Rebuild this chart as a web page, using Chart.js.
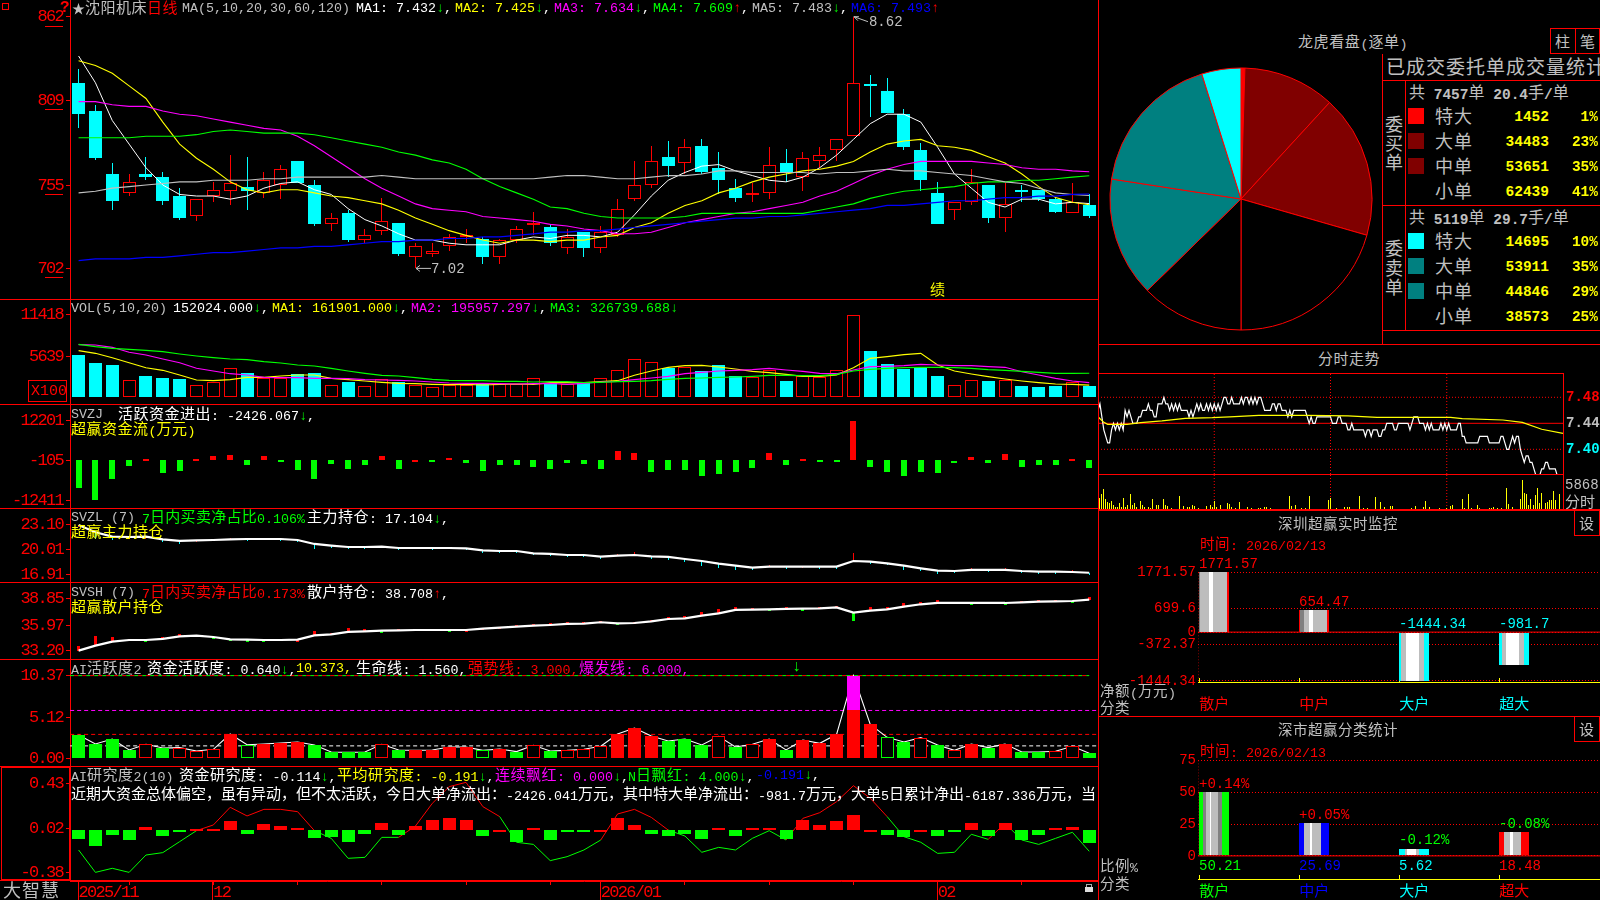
<!DOCTYPE html>
<html lang="zh">
<head>
<meta charset="utf-8">
<title>沈阳机床 日线</title>
<script src="https://cdn.jsdelivr.net/npm/chart.js@4"></script>
<style>
html,body{margin:0;padding:0;background:#000;overflow:hidden}
#stage{position:relative;width:1600px;height:900px;background:#000;overflow:hidden}
canvas{position:absolute;display:block}
.t{position:absolute;white-space:pre;line-height:1;transform:translateY(-50%);z-index:5}
.r{position:absolute;background:#f00;z-index:4}
.b{position:absolute;border:1px solid #f00;box-sizing:border-box;z-index:4}
</style>
</head>
<body>
<div id="stage"></div>
<script>
// ---- daily candles (yuan) ----
const candleOpen=[8.20,8.02,7.62,7.50,7.62,7.60,7.48,7.35,7.48,7.51,7.54,7.50,7.55,7.70,7.55,7.30,7.37,7.20,7.26,7.31,7.09,7.11,7.16,7.22,7.21,7.09,7.20,7.30,7.28,7.15,7.25,7.15,7.23,7.46,7.55,7.73,7.69,7.80,7.66,7.53,7.49,7.50,7.69,7.60,7.70,7.77,7.86,8.19,8.15,8.00,7.77,7.50,7.39,7.44,7.55,7.34,7.52,7.52,7.46,7.37,7.42];
const candleClose=[8.00,7.72,7.45,7.57,7.60,7.45,7.34,7.46,7.52,7.56,7.51,7.58,7.65,7.56,7.30,7.34,7.20,7.23,7.32,7.11,7.16,7.13,7.22,7.23,7.09,7.20,7.27,7.31,7.18,7.22,7.15,7.25,7.40,7.55,7.70,7.67,7.79,7.63,7.58,7.47,7.50,7.68,7.63,7.72,7.74,7.84,8.20,8.18,8.01,7.79,7.58,7.30,7.44,7.57,7.34,7.43,7.51,7.46,7.38,7.44,7.35];
const candleHigh=[8.29,8.06,7.69,7.62,7.73,7.63,7.53,7.46,7.57,7.74,7.73,7.63,7.68,7.70,7.58,7.37,7.39,7.27,7.47,7.31,7.18,7.18,7.24,7.27,7.22,7.21,7.29,7.38,7.30,7.27,7.25,7.29,7.46,7.70,7.80,7.83,7.84,7.84,7.76,7.59,7.56,7.79,7.78,7.76,7.79,7.84,8.62,8.25,8.23,8.03,7.82,7.57,7.44,7.65,7.55,7.56,7.55,7.52,7.47,7.56,7.49];
const candleLow=[7.91,7.71,7.39,7.48,7.58,7.42,7.33,7.32,7.44,7.42,7.39,7.47,7.46,7.56,7.29,7.26,7.19,7.18,7.23,7.10,7.02,7.09,7.13,7.18,7.05,7.05,7.18,7.23,7.16,7.11,7.09,7.12,7.22,7.45,7.53,7.60,7.62,7.62,7.49,7.44,7.44,7.46,7.57,7.51,7.66,7.70,7.86,7.98,8.01,7.77,7.51,7.30,7.33,7.42,7.31,7.25,7.44,7.45,7.37,7.37,7.34];
const priceTicks=[8.62,8.09,7.55,7.02];

// ---- price moving averages ----
const ma5=[8.37,8.20,7.96,7.81,7.66,7.55,7.49,7.48,7.48,7.46,7.48,7.53,7.56,7.57,7.52,7.49,7.40,7.33,7.29,7.24,7.20,7.20,7.18,7.17,7.17,7.17,7.20,7.22,7.21,7.23,7.23,7.22,7.25,7.36,7.48,7.58,7.63,7.67,7.68,7.64,7.61,7.58,7.57,7.60,7.66,7.74,7.84,7.94,8.00,8.00,7.95,7.79,7.62,7.53,7.44,7.41,7.46,7.46,7.43,7.44,7.432];
const ma10=[8.34,8.31,8.26,8.18,8.10,7.95,7.81,7.72,7.65,7.57,7.52,7.50,7.52,7.52,7.50,7.48,7.47,7.45,7.43,7.39,7.34,7.30,7.26,7.23,7.20,7.18,7.20,7.20,7.19,7.20,7.20,7.22,7.23,7.28,7.31,7.37,7.42,7.45,7.50,7.53,7.57,7.60,7.62,7.64,7.65,7.67,7.70,7.76,7.81,7.83,7.84,7.80,7.79,7.77,7.73,7.69,7.62,7.54,7.47,7.44,7.425];
const ma20=[8.08,8.08,8.06,8.05,8.05,8.02,8.00,7.99,7.97,7.95,7.93,7.91,7.90,7.86,7.80,7.73,7.66,7.59,7.53,7.48,7.43,7.40,7.39,7.38,7.35,7.34,7.33,7.32,7.30,7.29,7.27,7.26,7.24,7.24,7.25,7.28,7.31,7.33,7.35,7.37,7.38,7.40,7.42,7.44,7.48,7.51,7.56,7.61,7.65,7.68,7.70,7.70,7.70,7.70,7.69,7.68,7.66,7.65,7.65,7.64,7.634];
const ma30=[7.85,7.85,7.85,7.85,7.86,7.86,7.86,7.87,7.89,7.90,7.89,7.88,7.88,7.88,7.87,7.85,7.83,7.81,7.79,7.76,7.74,7.71,7.69,7.65,7.59,7.54,7.50,7.46,7.41,7.40,7.37,7.35,7.34,7.34,7.34,7.34,7.35,7.37,7.37,7.37,7.37,7.37,7.37,7.37,7.39,7.41,7.43,7.465,7.49,7.51,7.52,7.53,7.54,7.56,7.57,7.57,7.58,7.58,7.59,7.60,7.609];
const ma60=[7.50,7.51,7.53,7.54,7.55,7.56,7.57,7.57,7.58,7.58,7.58,7.59,7.59,7.60,7.60,7.60,7.60,7.60,7.61,7.60,7.59,7.59,7.59,7.59,7.59,7.59,7.59,7.59,7.60,7.61,7.61,7.60,7.59,7.59,7.60,7.61,7.61,7.62,7.64,7.64,7.63,7.63,7.63,7.63,7.62,7.63,7.63,7.64,7.65,7.64,7.64,7.63,7.62,7.61,7.59,7.57,7.56,7.53,7.50,7.49,7.483];
const ma120=[7.07,7.08,7.08,7.08,7.09,7.09,7.10,7.11,7.12,7.12,7.13,7.14,7.15,7.15,7.16,7.16,7.17,7.18,7.19,7.19,7.20,7.20,7.21,7.21,7.22,7.22,7.23,7.24,7.25,7.25,7.26,7.26,7.27,7.28,7.29,7.30,7.31,7.32,7.33,7.34,7.34,7.35,7.35,7.36,7.37,7.38,7.39,7.40,7.42,7.42,7.43,7.44,7.45,7.45,7.46,7.47,7.47,7.48,7.48,7.49,7.493];

// ---- volume (x100 shares) ----
const volume=[5778,4707,4427,2283,2843,2610,2470,1584,2004,3961,3262,2563,2563,3122,3262,1584,2050,1445,2470,2004,1584,1351,1584,1584,1864,1724,1724,2563,1864,1724,1864,2563,3681,5219,4800,3961,4101,3588,4427,2889,2703,3681,2190,2843,2703,3681,11418,6384,4567,3868,4008,2889,1584,2283,2190,2283,1445,1351,1491,2004,1520];
const volMa5=[6431,6058,5452,4753,4054,3681,3029,2330,2237,2377,2703,2703,2889,3029,3029,2563,2377,2190,2004,1864,1817,1724,1678,1724,1631,1724,1771,1724,1957,1957,1957,2097,2237,2982,3588,4101,4334,4380,4147,3868,3542,3355,3122,2843,2843,3029,4054,5359,5592,5872,6058,4427,3588,3169,2796,2470,2190,1957,1771,1724,1619];
const volMa10=[7270,7223,6897,6198,5825,5266,4753,3961,3588,3215,3029,2703,2656,2656,2563,2563,2516,2377,2330,2283,2190,2050,1911,1864,1864,1817,1771,1817,1864,1724,1864,2050,2144,2377,2610,2843,3215,3402,3588,3681,3775,3961,3728,3542,3262,3215,3728,4194,4241,4334,4520,4427,4334,4334,4194,4101,3495,3029,2563,2190,1960];
const volMa20=[7316,6990,6757,6617,6477,6291,5965,5685,5452,5266,5173,4893,4707,4427,4287,3961,3588,3262,2982,2889,2656,2423,2283,2237,2237,2144,2144,2050,2097,2097,1957,2004,2097,2144,2237,2423,2563,2610,2703,2749,2843,2982,2982,2936,2936,3122,3588,3821,3961,4054,4101,4101,4054,3961,3775,3681,3542,3402,3262,3262,3267];
const volTicks=[11418,5639];

// ---- active fund flow (10k yuan) ----
const fundFlow=[-8446,-12411,-5665,-1751,515,-3914,-3296,515,1339,1648,-1442,1339,-515,-2987,-5768,-1133,-2678,-1442,1339,-2678,103,-515,721,-824,-3296,-1442,-1442,-2060,-2678,-824,-1133,-2678,2884,2266,-3605,-2987,-2987,-4841,-4223,-3605,-2369,2266,-1442,412,-515,-515,12201,-2060,-3605,-4841,-3605,-3914,-206,1030,-824,1957,-2060,-1442,-1442,412,-2426];
const fundTicks=[12201,-105,-12411];

// ---- main-force holding ----
const mainHold=[23.02,22.11,21.57,21.53,21.57,21.24,21.04,21.12,21.16,21.24,21.28,21.28,21.28,21.16,20.67,20.46,20.29,20.29,20.33,20.17,20.17,20.17,20.17,20.13,19.88,19.80,19.80,19.51,19.45,19.30,19.30,19.10,19.22,19.30,19.14,19.06,18.81,18.56,18.23,17.98,17.73,17.86,17.86,17.86,17.86,17.86,18.56,18.48,18.27,17.98,17.65,17.36,17.32,17.45,17.45,17.45,17.32,17.24,17.24,17.20,17.104];
const mainHoldChange=[0,-.83,-.41,0,0,-.29,-.37,0,.12,.12,-.21,.12,-.12,-.08,-.62,-.12,-.25,-.12,.12,-.17,.12,-.12,.12,-.08,-.29,-.12,-.08,-.12,-.33,-.12,-.08,-.29,.25,.33,-.33,-.37,-.41,-.58,-.54,-.58,-.25,.21,-.29,.12,-.12,-.21,.99,-.21,-.12,-.50,-.33,-.41,-.12,.21,-.29,.25,-.17,-.08,-.12,.25,-.25];
const mainTicks=[23.10,20.01,16.91];

// ---- retail holding ----
const retailHold=[33.24,33.77,34.20,34.38,34.38,34.49,34.77,34.84,34.70,34.45,34.42,34.38,34.38,34.42,34.88,34.99,35.24,35.31,35.38,35.42,35.45,35.45,35.45,35.45,35.60,35.70,35.81,35.92,35.99,36.10,36.13,36.28,36.17,36.20,36.38,36.63,36.70,36.99,37.24,37.60,37.63,37.67,37.71,37.74,37.78,37.88,37.31,37.53,37.67,37.96,38.21,38.35,38.35,38.35,38.35,38.35,38.42,38.49,38.53,38.56,38.708];
const retailHoldChange=[.50,1.00,.50,.07,-.07,.21,.21,.07,-.11,-.18,-.11,-.11,.07,0,.43,.11,.43,.21,-.11,.11,.07,.07,-.07,0,.11,.11,.18,.18,.18,.18,.18,.18,-.18,.07,.18,.18,.29,.43,.43,.29,.18,-.07,.18,-.07,.18,.18,-.86,.43,.29,.43,.29,.29,.07,-.07,.07,-.07,.18,.18,.18,-.07,.29];
const retailTicks=[38.85,35.97,33.20];

// ---- activity index ----
const activity=[2.93,1.80,2.42,1.05,1.76,1.30,1.34,.92,1.13,3.05,1.71,1.80,1.92,2.05,1.67,.79,.75,.79,1.76,1.05,1.00,1.05,1.42,1.42,1.00,1.17,.84,1.63,.92,1.00,1.13,1.51,3.05,3.80,2.80,2.17,2.42,1.67,2.76,1.42,1.76,2.42,1.05,2.30,1.88,3.01,10.373,4.26,2.63,2.05,2.59,1.67,1.00,1.80,1.34,1.80,.79,.79,.88,1.51,.64];
const activityStyle='ggggRgRRRrGrrrggggRgrrrrGrgRg'+'RRRrrrgggRgRrgrrrrrGgRgRrgrggRRg';
const activityTicks=[10.37,5.12,0];
const lifeLine=1.56, strongLine=3, burstLine=6, topLine=10.373;

// ---- research index ----
const research=[-.079,-.143,-.043,-.088,.030,-.052,-.015,.012,.012,.085,-.033,.058,.039,.021,-.070,-.061,-.106,-.033,.067,-.043,.039,.094,.112,.094,-.052,.003,-.106,.021,-.088,-.012,-.012,.003,.112,.049,-.033,-.052,-.033,-.079,.021,-.052,.021,.021,-.079,.094,.049,.085,.140,.003,-.043,-.061,.003,-.052,-.015,.067,-.052,.067,-.088,-.043,.021,.030,-.114];
const researchAvg=[-.179,-.383,-.346,-.383,-.225,-.203,-.103,-.003,.049,.210,.131,.191,.191,.170,-.003,-.073,-.255,-.246,-.064,-.064,.039,.246,.398,.437,.216,.125,-.109,-.128,-.276,-.240,-.179,-.088,.149,.191,.118,.003,-.052,-.200,-.155,-.179,-.073,-.003,-.088,.109,.161,.261,.407,.292,.125,-.058,-.109,-.210,-.200,-.036,-.082,.064,-.088,-.128,-.073,-.018,-.191];
const researchTicks=[.43,.02,-.38];

// ---- date axis ----
const dateTickBars=[0,3,8,13,18,23,28,31,36,41,46,51,56];
const dateLabels={0:'2025/11',8:'12',31:'2026/01',51:'02'};

// ---- order statistics pie ----
const pieLabels=['买特大','买大单','买中单','买小单','卖小单','卖中单','卖大单','卖特大'];
const pieValues=[1452,34483,53651,62439,38573,44846,53911,14695];
const pieColors=['#ff0000','#800000','#800000','#000000','#000000','#008080','#008080','#00ffff'];

// ---- intraday trend ----
const minutePrice=[746,747,745,743,742,741,741,743,744,743,744,743,744,743,746,745,746,745,744,744,744,745,745,746,746,746,747,746,746,745,745,747,747,747,748,747,747,746,747,746,747,746,747,746,746,746,746,745,746,745,746,747,746,747,746,746,747,746,747,746,747,746,747,746,747,748,748,747,747,748,747,747,747,747,748,747,748,748,747,748,747,748,747,748,748,747,746,746,746,746,747,747,746,747,747,746,746,746,745,746,745,746,746,746,746,746,746,746,745,744,745,744,744,745,745,745,745,745,745,745,745,744,744,744,745,745,744,744,744,743,743,744,743,743,743,743,743,743,742,743,743,742,743,743,743,742,742,743,743,744,744,744,744,743,743,744,744,744,744,744,744,743,744,745,745,745,744,744,744,743,744,743,744,743,743,743,743,744,743,744,743,744,743,743,743,743,744,744,742,742,741,741,741,741,741,741,741,742,742,742,742,742,741,741,741,741,741,741,742,742,741,740,740,741,742,741,742,742,740,739,738,739,739,738,738,737,736,736,736,737,737,738,738,737,737,737,737,736,736,736,736];
const avgMinutes=[0,3,5,15,22,33,39,45,59,68,83,108,129,144,182,188,209,219,229,240];
const avgPrices=[7.45,7.4415,7.4385,7.4385,7.441,7.4436,7.4456,7.4477,7.4487,7.45,7.4523,7.4523,7.4513,7.4492,7.4492,7.4472,7.4451,7.4415,7.4308,7.4246];
const minuteTicks=[7.48,7.44,7.40];
const sessionMarks=[60,120,180];
const tickMinutes=[1,2,3,4,5,6,7,8,9,10,11,12,13,14,15,17,18,19,20,22,23,24,26,27,28,30,31,34,35,36,38,42,44,46,47,49,50,52,56,58,59,60,61,63,67,68,69,71,73,77,79,83,84,86,87,89,99,100,102,105,107,109,119,120,123,127,129,130,135,137,139,143,146,148,151,152,162,164,168,169,171,176,180,182,183,188,189,191,193,196,197,202,203,204,206,208,211,212,214,218,219,220,221,222,223,225,226,227,228,229,231,232,233,234,235,236,238];
const tickVolumes=[2200,3068,3935,1934,1400,1134,1534,734,400,400,1267,400,2200,467,734,2935,734,1267,400,1600,734,400,400,267,1934,867,867,1934,734,600,200,2535,534,400,400,734,534,200,534,734,400,1534,400,734,1267,1000,400,200,1400,400,200,200,200,400,400,200,2535,600,734,200,200,2535,1734,2200,200,400,400,400,2535,200,200,2334,1400,400,600,600,200,534,400,1600,400,200,200,534,734,1934,200,2935,200,734,200,200,200,400,200,200,4135,934,400,2067,5868,3135,2935,734,2067,734,2868,4268,1267,3268,1267,1400,1734,1734,3535,1734,3068];

// ---- net flow monitor and share statistics ----
const flowCats=['散户','中户','大户','超大'];
const flowValues=[1771.57,654.47,-1444.34,-981.7];
const flowTicks=[1771.57,699.6,0,-372.37,-1444.34];
const shareValues=[50.21,25.69,5.62,18.48];
const shareChange=['+0.14%','+0.05%','-0.12%','-0.08%'];
const shareTicks=[75,50,25,0];

const RED='#ff0000',CYAN='#00ffff',GREEN='#00ff00',YEL='#ffff00',MAG='#ff00ff',GREY='#c0c0c0',BLUE='#0000ff',WHITE='#ffffff';
const stage=document.getElementById('stage');
const BAR_X={type:'linear',min:-0.51,max:60.52,display:false,offset:false,grid:{offset:false}};
Chart.defaults.animation=false;
Chart.defaults.responsive=false;
Chart.defaults.devicePixelRatio=1;
Chart.defaults.plugins.legend.display=false;
Chart.defaults.plugins.tooltip.enabled=false;

function mount(x,y,w,h){
  const c=document.createElement('canvas');
  c.width=w;c.height=h;c.style.left=x+'px';c.style.top=y+'px';c.style.width=w+'px';c.style.height=h+'px';
  stage.appendChild(c);return c.getContext('2d');
}
// Pixel-align every bar so thin outlines stay crisp.
const snapBars={id:'snapBars',afterDatasetsUpdate(chart){
  chart.getSortedVisibleDatasetMetas().forEach(meta=>{
    if(meta.type!=='bar')return;
    meta.data.forEach(el=>{
      if(el.skip)return;
      const odd=Math.round(el.width)%2===1;
      el.x=odd?Math.floor(el.x)+0.5:Math.round(el.x);
      el.y=Math.round(el.y);el.base=Math.round(el.base);
      if(Math.abs(el.y-el.base)<2) el.base=el.y+2;
    });
  });
}};
// Narrow the tall axis digits while the scales paint.
const tightTicks={id:'tightTicks',
  beforeDraw(ch){ch.ctx.letterSpacing='-1.7px';},
  beforeDatasetsDraw(ch){ch.ctx.letterSpacing='0px';}};
const noOverhang=s=>{s.paddingTop=0;s.paddingBottom=0;s.paddingLeft=0;s.paddingRight=0;};
function yAxis(ticks,min,max,fmt){
  return {
    type:'linear',min,max,position:'left',
    afterFit:s=>{s.width=70;noOverhang(s);},
    afterBuildTicks:s=>{s.ticks=ticks.map(value=>({value}))},
    ticks:{color:RED,autoSkip:false,padding:3,font:{family:'"Liberation Mono"',size:17},callback:fmt||(v=>String(v))},
    grid:{drawOnChartArea:false,color:RED,tickLength:4},
    border:{color:RED,width:1}
  };
}
const lineSet=(data,color,width,order)=>({type:'line',data:data.map((y,i)=>({x:i,y})),borderColor:color,borderWidth:width||1,pointRadius:0,tension:0,fill:false,order:order||1});
const rule=(x0,x1,y,color,dash,order,offset)=>({type:'line',data:[{x:x0,y},{x:x1,y}],borderColor:color,borderWidth:1,borderDash:dash||[],borderDashOffset:offset||0,pointRadius:0,order:order||5});
const barSet=(data,opts)=>Object.assign({type:'bar',data,grouped:false,barThickness:13,inflateAmount:0,borderWidth:0,borderSkipped:false,enableBorderRadius:false,order:2},opts);

// ---- candle panel ----
const up=i=>candleClose[i]>=candleOpen[i];
new Chart(mount(0,0,1098,299),{type:'line',
  data:{datasets:[
    barSet(candleLow.map((l,i)=>({x:i,y:[l,candleHigh[i]]})),{barThickness:1,order:3,backgroundColor:c=>up(c.dataIndex)?RED:CYAN}),
    barSet(candleOpen.map((o,i)=>({x:i,y:[o,candleClose[i]]})),{order:2,borderWidth:1,
      backgroundColor:c=>up(c.dataIndex)?'#000':CYAN,borderColor:c=>up(c.dataIndex)?RED:CYAN}),
    lineSet(ma120,BLUE,1.2),lineSet(ma60,GREY,1.1),lineSet(ma30,GREEN,1.1),lineSet(ma20,MAG,1.1),lineSet(ma10,YEL,1.1),lineSet(ma5,WHITE,1)
  ]},
  options:{layout:{padding:0},scales:{x:BAR_X,y:yAxis(priceTicks,6.8255,8.726,v=>String(Math.round(v*100)))}},
  plugins:[snapBars,tightTicks,{id:'extremes',afterDraw(ch){
    const {ctx,scales:{x,y}}=ch;
    ctx.save();ctx.font='14px "Liberation Mono"';ctx.fillStyle=GREY;ctx.strokeStyle=GREY;ctx.textBaseline='middle';
    // high marker
    let hi=candleHigh.indexOf(Math.max(...candleHigh)),px=x.getPixelForValue(hi)+.5,py=y.getPixelForValue(candleHigh[hi]);
    ctx.beginPath();ctx.moveTo(px,py);ctx.lineTo(px+14,py+5);ctx.moveTo(px,py);ctx.lineTo(px+4,py+4);ctx.moveTo(px,py);ctx.lineTo(px+5,py);ctx.stroke();
    ctx.fillText(candleHigh[hi].toFixed(2),px+15,py+6);
    // low marker
    let lo=candleLow.indexOf(Math.min(...candleLow));px=x.getPixelForValue(lo)+.5;py=y.getPixelForValue(candleLow[lo]);
    ctx.beginPath();ctx.moveTo(px,py);ctx.lineTo(px+15,py);ctx.moveTo(px,py);ctx.lineTo(px+4,py-3);ctx.moveTo(px,py);ctx.lineTo(px+4,py+3);ctx.stroke();
    ctx.fillText(candleLow[lo].toFixed(2),px+15,py+1);
    // underlines of the price ticks
    ctx.strokeStyle=RED;
    priceTicks.forEach(v=>{const yy=Math.round(y.getPixelForValue(v))+9.5;ctx.beginPath();ctx.moveTo(45,yy);ctx.lineTo(63,yy);ctx.stroke();});
    ctx.restore();
  }}]
});

// ---- volume panel ----
new Chart(mount(0,299,1098,105),{type:'line',
  data:{datasets:[
    barSet(volume.map((y,i)=>({x:i,y})),{borderWidth:1,order:2,
      backgroundColor:c=>up(c.dataIndex)?'#000':CYAN,borderColor:c=>up(c.dataIndex)?RED:CYAN}),
    lineSet(volMa20,GREEN,1.1),lineSet(volMa10,MAG,1.1),lineSet(volMa5,YEL,1.1)
  ]},
  options:{scales:{x:BAR_X,y:yAxis(volTicks,-1025,13654)}},plugins:[snapBars,tightTicks]});

// ---- fund flow panel ----
new Chart(mount(0,404,1098,104),{type:'line',
  data:{datasets:[barSet(fundFlow.map((y,i)=>({x:i,y})),{barThickness:6,backgroundColor:c=>fundFlow[c.dataIndex]>=0?RED:GREEN})]},
  options:{scales:{x:BAR_X,y:yAxis(fundTicks,-14730,17406)}},plugins:[snapBars,tightTicks]});

// ---- holding panels ----
const holdPanel=(top,h,series,changes,ticks,min,max,markW,downColor)=>new Chart(mount(0,top,1098,h),{type:'line',
  data:{datasets:[
    lineSet(series,WHITE,2.2,1),
    barSet(series.map((v,i)=>({x:i,y:[v,v+changes[i]]})),{barThickness:markW,order:2,
      backgroundColor:c=>changes[c.dataIndex]>=0?RED:downColor})
  ]},
  options:{scales:{x:BAR_X,y:yAxis(ticks,min,max,v=>v.toFixed(2))}},plugins:[snapBars,tightTicks]});
holdPanel(508,74,mainHold,mainHoldChange,mainTicks,15.96,25.12,1,CYAN);
holdPanel(582,77,retailHold,retailHoldChange,retailTicks,32.34,40.60,3,GREEN);

// ---- activity panel ----
const actFill={g:GREEN,G:'#000',r:RED,R:'#000'};
const actEdge={g:GREEN,G:GREEN,r:RED,R:RED};
new Chart(mount(0,659,1098,107),{type:'line',
  data:{datasets:[
    rule(-.5,60,topLine,GREEN,[4,4],6),
    rule(-.5,60,topLine,RED,[4,4],5,4),
    rule(-.5,60.5,burstLine,MAG,[4,3]),
    rule(-.5,60.5,strongLine,RED,[4,3]),
    rule(-.5,60.5,lifeLine,WHITE,[4,3]),
    lineSet(activity,WHITE,1.1,3),
    barSet(activity.map((v,i)=>({x:i,y:Math.min(v,burstLine)})),{borderWidth:1,order:2,
      backgroundColor:c=>actFill[activityStyle[c.dataIndex]],borderColor:c=>actEdge[activityStyle[c.dataIndex]]}),
    barSet(activity.map((v,i)=>({x:i,y:v>burstLine?[burstLine,v]:null})),{order:1,backgroundColor:MAG})
  ]},
  options:{scales:{x:BAR_X,y:yAxis(activityTicks,-.962,12.456,v=>v.toFixed(2))}},plugins:[snapBars,tightTicks]});

// ---- research panel ----
new Chart(mount(0,766,1098,114),{type:'line',
  data:{datasets:[
    Object.assign(lineSet(researchAvg,GREEN,1,3),{segment:{borderColor:s=>(s.p0.parsed.y>=0||s.p1.parsed.y>=0)&&s.p1.parsed.y>-.03?RED:GREEN}}),
    barSet(research.map((y,i)=>({x:i,y})),{backgroundColor:c=>research[c.dataIndex]>=0?RED:GREEN})
  ]},
  options:{scales:{x:BAR_X,y:yAxis(researchTicks,-.4525,.5861,v=>v.toFixed(2))}},plugins:[snapBars,tightTicks]});

// ---- date strip ----
new Chart(mount(0,880,1098,20),{type:'line',
  data:{datasets:[{data:[]}]},
  options:{layout:{padding:{left:70}},scales:{
    y:{display:false},
    x:{type:'linear',min:-.51,max:60.52,position:'bottom',offset:false,
      afterFit:s=>{s.height=19;noOverhang(s);},
      afterBuildTicks:s=>{s.ticks=dateTickBars.map(value=>({value}))},
      ticks:{align:'start',autoSkip:false,maxRotation:0,minRotation:0,padding:-3,color:RED,
        font:{family:'"Liberation Mono"',size:17},callback:v=>dateLabels[v]||''},
      grid:{drawOnChartArea:false,color:RED,tickLength:4},border:{color:RED}}
  }},
  plugins:[tightTicks,{id:'monthRules',afterDraw(ch){
    const {ctx,scales:{x}}=ch;ctx.save();ctx.strokeStyle=RED;
    Object.keys(dateLabels).forEach(k=>{const p=Math.round(x.getPixelForValue(+k))-.5;ctx.beginPath();ctx.moveTo(p,0);ctx.lineTo(p,20);ctx.stroke();});
    ctx.restore();
  }}]
});

// ---- pie ----
new Chart(mount(1107,65,268,268),{type:'pie',
  data:{labels:pieLabels,datasets:[{data:pieValues,backgroundColor:pieColors,borderColor:RED,borderWidth:1}]},
  options:{layout:{padding:2.5},rotation:0}});

// ---- intraday price and volume ----
const FS_X={type:'linear',min:0,max:240,display:false,offset:false,grid:{offset:false}};
new Chart(mount(1098,373,502,101),{type:'line',
  data:{datasets:[
    ...sessionMarks.map(m=>({type:'line',data:[{x:m,y:7.362},{x:m,y:7.5174}],borderColor:RED,borderWidth:1,borderDash:[1,2],pointRadius:0,order:5})),
    rule(0,240,7.48,RED,[1,2]),rule(0,240,7.40,RED,[1,2]),rule(0,240,7.44,RED,[],4),
    {type:'line',data:minutePrice.map((v,i)=>({x:i,y:v/100})),borderColor:WHITE,borderWidth:1.2,pointRadius:0,order:2},
    {type:'line',data:avgMinutes.map((x,i)=>({x,y:avgPrices[i]})),borderColor:YEL,borderWidth:1.2,pointRadius:0,order:1}
  ]},
  options:{scales:{x:FS_X,y:{type:'linear',position:'right',min:7.362,max:7.5174,
    afterFit:s=>{s.width=37;noOverhang(s);},
    afterBuildTicks:s=>{s.ticks=minuteTicks.map(value=>({value}))},
    ticks:{autoSkip:false,padding:3,font:{family:'"Liberation Mono"',size:14,weight:'bold'},
      color:c=>c.tick.value>7.445?RED:c.tick.value<7.435?CYAN:GREY,callback:v=>v.toFixed(2)},
    grid:{display:false,drawTicks:false},border:{display:false}}}}
});
new Chart(mount(1098,474,465,35),{type:'line',
  data:{datasets:[
    ...sessionMarks.map(m=>({type:'line',data:[{x:m,y:0},{x:m,y:6986}],borderColor:RED,borderWidth:1,borderDash:[1,2],pointRadius:0,order:5})),
    barSet(tickMinutes.map((x,i)=>({x,y:tickVolumes[i]})),{barThickness:1,backgroundColor:YEL})
  ]},
  options:{scales:{x:FS_X,y:{display:false,min:0,max:6986}}},plugins:[snapBars]});

// ---- striped column charts ----
const stripes=(stops)=>c=>{
  if(c.dataIndex===undefined)return '#000';
  const px=c.chart.scales.x.getPixelForValue(c.dataIndex);
  if(!Number.isFinite(px))return '#000';
  const g=c.chart.ctx.createLinearGradient(px-15,0,px+15,0);
  stops[c.dataIndex].forEach(([a,b,col])=>{g.addColorStop(a,col);g.addColorStop(b,col);});
  return g;
};
const G1='#bdbdbd',G2='#808080';
const flowStripes=[
  [[0,.04,G2],[.04,.33,G1],[.33,.47,WHITE],[.47,.93,G1],[.93,1,RED]],
  [[0,.05,RED],[.05,.17,G2],[.17,.33,G1],[.33,.47,WHITE],[.47,.93,G1],[.93,1,RED]],
  [[0,.08,CYAN],[.08,.22,G1],[.22,.67,WHITE],[.67,.83,G1],[.83,1,CYAN]],
  [[0,.1,CYAN],[.1,.22,G1],[.22,.67,WHITE],[.67,.83,G1],[.83,1,CYAN]]
];
const shareStripes=[
  [[0,.13,GREEN],[.13,.22,G2],[.22,.37,G1],[.37,.41,WHITE],[.41,.63,G1],[.63,.76,G2],[.76,1,GREEN]],
  [[0,.18,BLUE],[.18,.37,G1],[.37,.45,WHITE],[.45,.73,G1],[.73,1,BLUE]],
  [[0,.2,CYAN],[.2,.27,G1],[.27,.57,WHITE],[.57,.67,G1],[.67,1,CYAN]],
  [[0,.18,RED],[.18,.37,G1],[.37,.45,WHITE],[.45,.73,G1],[.73,1,RED]]
];
const catColors1=[RED,RED,CYAN,CYAN], catColors2=[GREEN,BLUE,CYAN,RED];
const colX=(catColors,h,pad)=>({type:'linear',min:-.16,max:3.86,offset:false,position:'bottom',
  afterFit:s=>{s.height=h;noOverhang(s);},
  afterBuildTicks:s=>{s.ticks=flowCats.map((_,i)=>({value:i-.147}))},
  ticks:{align:'start',autoSkip:false,maxRotation:0,minRotation:0,padding:pad,
    font:{family:'"Noto Sans CJK SC"',size:15},
    color:c=>catColors[c.index],callback:(v,i)=>flowCats[i]},
  grid:{drawOnChartArea:false,color:YEL,tickLength:-4,offset:false},border:{color:YEL}});
const colY=(ticks,min,max,fmt)=>({type:'linear',min,max,
  afterFit:s=>{s.width=100;noOverhang(s);},
  afterBuildTicks:s=>{s.ticks=ticks.map(value=>({value}))},
  ticks:{autoSkip:false,padding:2,color:RED,font:{family:'"Liberation Mono"',size:14},callback:fmt||(v=>String(v))},
  grid:{color:RED,drawTicks:false},border:{display:false,dash:[1,2]}});

new Chart(mount(1098,552,502,160),{type:'line',
  data:{datasets:[
    barSet(flowValues.map((y,i)=>({x:i,y})),{barThickness:30,order:1,backgroundColor:stripes(flowStripes)}),
    rule(-.16,3.86,0,RED,[],2),
    {type:'line',data:[{x:-.16,y:1771.57},{x:-.16,y:-1444.34}],borderColor:RED,borderWidth:1,borderDash:[1,2],pointRadius:0,order:3}
  ]},
  options:{scales:{x:colX(catColors1,30,16),y:colY(flowTicks,-1476,2371)}},
  plugins:[snapBars,{id:'flowLabels',afterDatasetsDraw(ch){
    const {ctx,scales:{x,y}}=ch;ctx.save();ctx.font='14px "Liberation Mono"';ctx.textBaseline='middle';
    flowValues.forEach((v,i)=>{
      ctx.fillStyle=v>=0?RED:CYAN;
      const py=v>=0?y.getPixelForValue(v)-8:y.getPixelForValue(0)-8;
      ctx.fillText(String(v),x.getPixelForValue(i)-15,py);
    });
    ctx.restore();
  }}]
});
new Chart(mount(1098,745,502,155),{type:'line',
  data:{datasets:[
    barSet(shareValues.map((y,i)=>({x:i,y})),{barThickness:30,order:1,backgroundColor:stripes(shareStripes)}),
    rule(-.16,3.86,0,RED,[],2),
    {type:'line',data:[{x:-.16,y:75},{x:-.16,y:0}],borderColor:RED,borderWidth:1,borderDash:[1,2],pointRadius:0,order:3}
  ]},
  options:{scales:{x:colX(catColors2,21,6),y:colY(shareTicks,-18.16,87.08)}},
  plugins:[snapBars,{id:'shareLabels',afterDatasetsDraw(ch){
    const {ctx,scales:{x,y}}=ch;ctx.save();ctx.font='14px "Liberation Mono"';ctx.textBaseline='middle';
    shareValues.forEach((v,i)=>{
      const px=x.getPixelForValue(i)-15;
      ctx.fillStyle=shareChange[i][0]==='+'?RED:GREEN;
      ctx.fillText(shareChange[i],px,y.getPixelForValue(v)-8);
      ctx.fillStyle=catColors2[i];
      ctx.fillText(v.toFixed(2),px,y.getPixelForValue(0)+10);
    });
    ctx.restore();
  }}]
});

// ---- text helpers ----
function put(x,y,parts,o){
  o=o||{};
  const box=document.createElement('div');box.className='t';box.style.left=x+'px';box.style.top=y+'px';
  if(o.right){box.style.left='auto';box.style.right=(1600-x)+'px';}
  if(o.w){box.style.width=o.w+'px';box.style.overflow='hidden';box.style.height='22px';box.style.lineHeight='22px';}
  parts.forEach(([text,color])=>{
    text.split(/([\x20-\x7e↓↑←]+)/).forEach(run=>{
      if(!run)return;
      const s=document.createElement('span');s.textContent=run;s.style.color=color;
      if(/^[\x20-\x7e↓↑←]+$/.test(run)){
        s.style.font=(o.bold?'bold ':'')+(o.lat||13.33)+'px "Liberation Mono"';
      }else{
        s.style.font=(o.cjk||15)+'px "Noto Sans CJK SC"';
        s.style.letterSpacing=(o.ls!==undefined?o.ls:0.5)+'px';
        s.style.position='relative';s.style.top='-1.5px';
      }
      box.appendChild(s);
    });
  });
  stage.appendChild(box);
}
const hline=(x,y,w,h)=>{const d=document.createElement('div');d.className='r';d.style.cssText=`left:${x}px;top:${y}px;width:${w}px;height:${h||1}px`;stage.appendChild(d);};
const vline=(x,y,h)=>hline(x,y,1,h);
const box=(x,y,w,h,col)=>{const d=document.createElement('div');d.className='b';d.style.cssText=`left:${x}px;top:${y}px;width:${w}px;height:${h}px`+(col?`;border-color:${col}`:'');stage.appendChild(d);};

// ---- frame rules ----
[299,404,508,582,659,766,880].forEach(y=>hline(0,y,1098));
vline(1098,0,900);
hline(1098,344,502);hline(1098,509,502,2);hline(1098,716,502);
hline(1098,373,465);vline(1563,373,136);hline(1098,474,465);
vline(1382,54,290);hline(1383,80,217);hline(1383,205,217);hline(1383,330,217);vline(1405,80,250);
box(1,767,69,113);box(28,380,39,22);box(2,3,7,7);

// ---- left column captions ----
put(60,8,[['?',RED]],{lat:16,bold:true});
put(72,8,[['★',GREY]],{cjk:13,ls:0});
put(85,7,[['沈阳机床',GREY]],{cjk:15,ls:0.5});
put(147,7,[['日线',RED]],{cjk:15,ls:0.5});
put(182,7,[['MA(5,10,20,30,60,120)',GREY]]);
put(356,7,[['MA1: 7.432',WHITE],['↓',GREEN],[',',WHITE]]);
put(455,7,[['MA2: 7.425',YEL],['↓',GREEN],[',',WHITE]]);
put(554,7,[['MA3: 7.634',MAG],['↓',GREEN],[',',WHITE]]);
put(653,7,[['MA4: 7.609',GREEN],['↑',RED],[',',WHITE]]);
put(752,7,[['MA5: 7.483',GREY],['↓',GREEN],[',',WHITE]]);
put(851,7,[['MA6: 7.493',BLUE],['↑',RED]]);
put(930,289,[['绩',YEL]]);
put(31,391,[['X100',RED]],{lat:15});

put(71,307,[['VOL(5,10,20)',GREY]]);
put(173,307,[['152024.000',WHITE],['↓',GREEN],[',',WHITE]]);
put(272,307,[['MA1: 161901.000',YEL],['↓',GREEN],[',',WHITE]]);
put(411,307,[['MA2: 195957.297',MAG],['↓',GREEN],[',',WHITE]]);
put(550,307,[['MA3: 326739.688',GREEN],['↓',GREEN]]);

put(71,413,[['SVZJ',GREY]]);
put(118,413,[['活跃资金进出: -2426.067',WHITE],['↓',GREEN],[',',WHITE]]);
put(71,428,[['超赢资金流(万元)',YEL]]);

put(71,516,[['SVZL (7)',GREY]]);
put(142,516,[['7日内买卖净占比0.106%',GREEN]],{ls:0.3});
put(307,516,[['主力持仓: 17.104',WHITE],['↓',GREEN],[',',WHITE]]);
put(71,531,[['超赢主力持仓',YEL]]);

put(71,591,[['SVSH (7)',GREY]]);
put(142,591,[['7日内买卖净占比0.173%',RED]],{ls:0.3});
put(307,591,[['散户持仓: 38.708',WHITE],['↑',RED],[',',WHITE]]);
put(71,606,[['超赢散户持仓',YEL]]);

put(71,667,[['AI活跃度2',GREY]]);
put(147,667,[['资金活跃度: 0.640',WHITE],['↓',GREEN],[',',WHITE]]);
put(296,667,[['10.373,',YEL]]);
put(356,667,[['生命线: 1.560,',WHITE]]);
put(468,667,[['强势线: 3.000,',RED]]);
put(579,667,[['爆发线: 6.000,',MAG]]);
put(792,667,[['↓',GREEN]],{lat:16});

put(71,774,[['AI研究度2(10)',GREY]]);
put(179,774,[['资金研究度: -0.114',WHITE],['↓',GREEN],[',',WHITE]]);
put(337,774,[['平均研究度: -0.191',YEL],['↓',GREEN],[',',WHITE]]);
put(495,774,[['连续飘红: 0.000',MAG],['↓',GREEN],[',',WHITE]]);
put(628,774,[['N日飘红: 4.000',GREEN],['↓',GREEN],[',',WHITE]]);
put(756,774,[['-0.191',BLUE],['↓',GREEN],[',',WHITE]]);
put(71,794,[['近期大资金总体偏空，虽有异动，但不太活跃，今日大单净流出：-2426.041万元，其中特大单净流出：-981.7万元，大单5日累计净出-6187.336万元，当日',WHITE]],{w:1027,cjk:15,ls:0});
put(3,890,[['大智慧',GREY]],{cjk:18,ls:1});

// ---- lock glyph in the date strip ----
{const a=document.createElement('div');a.style.cssText='position:absolute;left:1085px;top:887px;width:8px;height:5px;background:#ddd;z-index:5';stage.appendChild(a);
 const b=document.createElement('div');b.style.cssText='position:absolute;left:1086px;top:884px;width:6px;height:3px;border:1px solid #aaa;border-bottom:0;box-sizing:border-box;z-index:5';stage.appendChild(b);}

// ---- right column captions ----
put(1298,41,[['龙虎看盘(逐单)',GREY]],{cjk:15,ls:0.6});
box(1550,28,26,26);box(1575,28,25,26);
put(1555,41,[['柱',GREY]],{cjk:15});put(1580,41,[['笔',GREY]],{cjk:15});
put(1386,66,[['已成交委托单成交量统计',GREY]],{cjk:19,ls:1});

put(1409,92,[['共 7457单 20.4手/单',GREY]],{cjk:16,lat:14.5,ls:0,bold:true});
put(1409,217,[['共 5119单 29.7手/单',GREY]],{cjk:16,lat:14.5,ls:0,bold:true});
[['委',124],['买',143],['单',162],['委',248],['卖',268],['单',287]].forEach(([c,y])=>put(1385,y,[[c,GREY]],{cjk:18}));

const buyRows=[['特大','1452','1%',RED],['大单','34483','23%','#800000'],['中单','53651','35%','#800000'],['小单','62439','41%',null]];
const sellRows=[['特大','14695','10%',CYAN],['大单','53911','35%','#008080'],['中单','44846','29%','#008080'],['小单','38573','25%',null]];
const rows=(list,y0)=>list.forEach(([n,v,p,c],i)=>{
  const y=y0+i*25;
  if(c){const d=document.createElement('div');d.style.cssText=`position:absolute;left:1408px;top:${y-8}px;width:16px;height:16px;background:${c};z-index:5`;stage.appendChild(d);}
  put(1435,y,[[n,GREY]],{cjk:18,ls:1});
  put(1549,y,[[v,YEL]],{right:true,lat:14.5,bold:true});
  put(1598,y,[[p,YEL]],{right:true,lat:14.5,bold:true});
});
rows(buyRows,116);rows(sellRows,241);

put(1318,358,[['分时走势',GREY]],{cjk:15,ls:0.5});
put(1565,484,[['5868',GREY]],{lat:14});
put(1565,501,[['分时',GREY]],{cjk:15,ls:0});

put(1278,523,[['深圳超赢实时监控',GREY]],{cjk:14.5,ls:0.5});
box(1574,510,26,26);put(1579,523,[['设',GREY]],{cjk:15});
put(1200,543,[['时间: 2026/02/13',RED]],{cjk:14.5});
put(1100,690,[['净额(万元)',GREY]],{cjk:14.5});
put(1100,707,[['分类',GREY]],{cjk:14.5});

put(1278,729,[['深市超赢分类统计',GREY]],{cjk:14.5,ls:0.5});
box(1574,716,26,26);put(1579,729,[['设',GREY]],{cjk:15});
put(1200,750,[['时间: 2026/02/13',RED]],{cjk:14.5});
put(1100,865,[['比例%',GREY]],{cjk:14.5});
put(1100,883,[['分类',GREY]],{cjk:14.5});
</script>
</body>
</html>
